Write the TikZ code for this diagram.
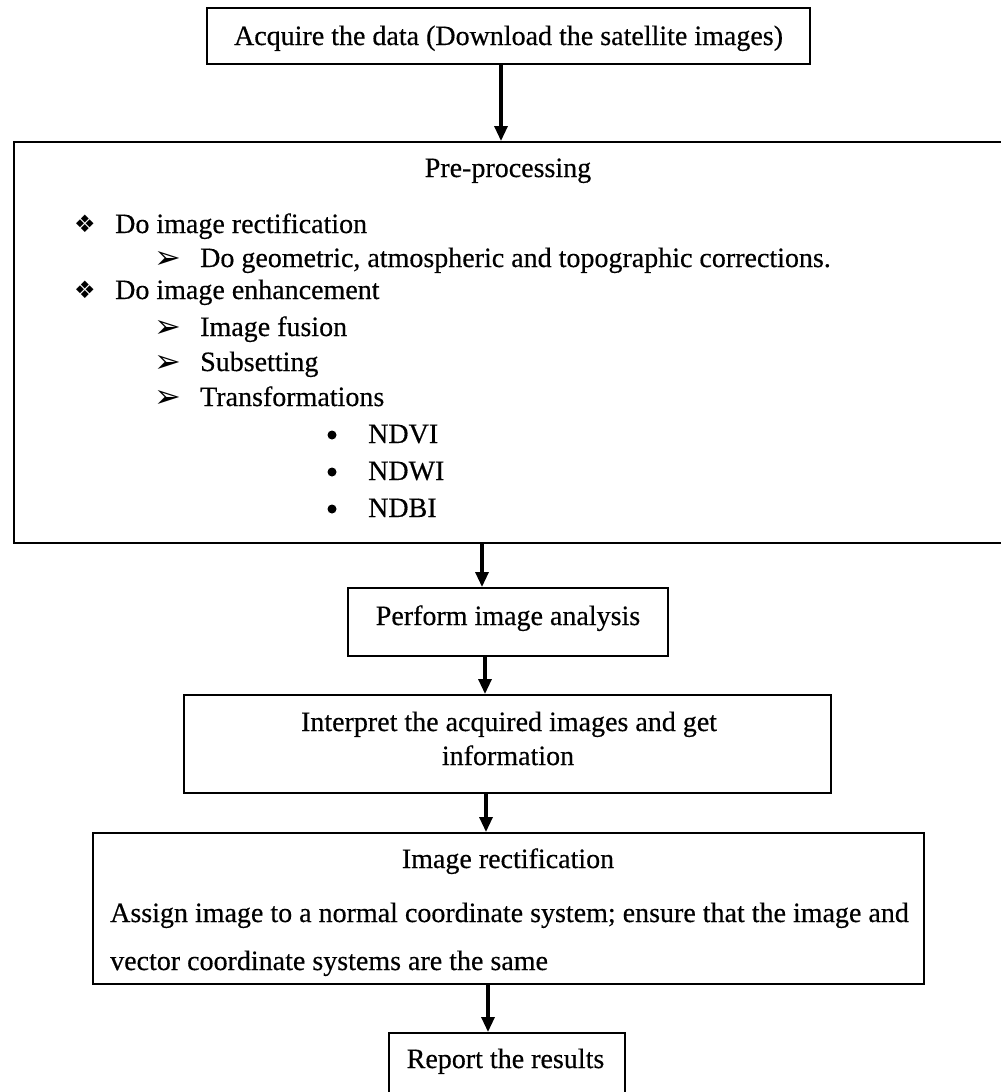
\documentclass[tikz,border=0pt]{standalone}
\usepackage{fontspec}
\setmainfont{Liberation Serif}[FakeBold=0.4]
\newfontfamily\dejavu{DejaVu Sans}
\usetikzlibrary{arrows.meta}
\begin{document}
\begin{tikzpicture}[x=1pt,y=-1pt,
  box/.style={draw, line width=2pt, rectangle, inner sep=0pt},
  txt/.style={anchor=base, inner sep=0pt, font=\fontsize{28}{32}\selectfont},
  ltxt/.style={txt, anchor=base west},
  bul/.style={anchor=base, inner sep=0pt, font=\dejavu\fontsize{24}{28}\selectfont},
  arr/.style={anchor=base, inner sep=0pt, font=\dejavu\fontsize{32}{36}\selectfont},
  dot/.style={circle, fill=black, inner sep=0pt, minimum size=9pt},
  flow/.style={line width=3.2pt, -{Triangle[length=15pt,width=13pt]}}]
\clip (0,0) rectangle (1001,1092);
\fill[white] (0,0) rectangle (1001,1092);
% boxes
\node[box, minimum width=603pt, minimum height=56pt] (acq) at (508.5,36) {};
\node[box, minimum width=996pt, minimum height=401pt] (pre) at (512,342.5) {};
\node[box, minimum width=320pt, minimum height=68pt] (ana) at (508,622) {};
\node[box, minimum width=647pt, minimum height=98pt] (int) at (507.5,744) {};
\node[box, minimum width=831.5pt, minimum height=151pt] (rec) at (508.25,908.5) {};
\node[box, minimum width=236pt, minimum height=67pt] (rep) at (507,1066.5) {};
% texts
\node[txt] (tacq) at (508.5,45) {Acquire the data (Download the satellite images)};
\node[txt] (tpre) at (508,177) {Pre-processing};
\node[bul] (b1) at (85,232) {❖};
\node[ltxt] (l1) at (115,233) {Do image rectification};
\node[arr] (b2) at (168,268) {➢};
\node[ltxt] (l2) at (200,267) {Do geometric, atmospheric and topographic corrections.};
\node[bul] (b3) at (85,298) {❖};
\node[ltxt] (l3) at (115,299) {Do image enhancement};
\node[arr] (b4) at (168,337) {➢};
\node[ltxt] (l4) at (200,336) {Image fusion};
\node[arr] (b5) at (168,372) {➢};
\node[ltxt] (l5) at (200,371) {Subsetting};
\node[arr] (b6) at (168,407) {➢};
\node[ltxt] (l6) at (200,406) {Transformations};
\node[dot] (b7) at (332,435) {};
\node[ltxt] (l7) at (368,443) {NDVI};
\node[dot] (b8) at (332,472) {};
\node[ltxt] (l8) at (368,480) {NDWI};
\node[dot] (b9) at (332,509) {};
\node[ltxt] (l9) at (368,517) {NDBI};
\node[txt] (tana) at (508,625) {Perform image analysis};
\node[txt] (tint1) at (509,731) {Interpret the acquired images and get};
\node[txt] (tint2) at (508,765) {information};
\node[txt] (trec) at (508,868) {Image rectification};
\node[ltxt] (trec1) at (110,922) {Assign image to a normal coordinate system; ensure that the image and};
\node[ltxt] (trec2) at (110,970) {vector coordinate systems are the same};
\node[txt] (trep) at (505.5,1068) {Report the results};
% connector guides
\coordinate (g1) at (501,0);
\coordinate (g2) at (482,0);
\coordinate (g3) at (485,0);
\coordinate (g4) at (486,0);
\coordinate (g5) at (488,0);
\draw[flow] (acq.south -| g1) -- (pre.north -| g1);
\draw[flow] (pre.south -| g2) -- (ana.north -| g2);
\draw[flow] (ana.south -| g3) -- (int.north -| g3);
\draw[flow] (int.south -| g4) -- (rec.north -| g4);
\draw[flow] (rec.south -| g5) -- (rep.north -| g5);
\end{tikzpicture}
\end{document}
